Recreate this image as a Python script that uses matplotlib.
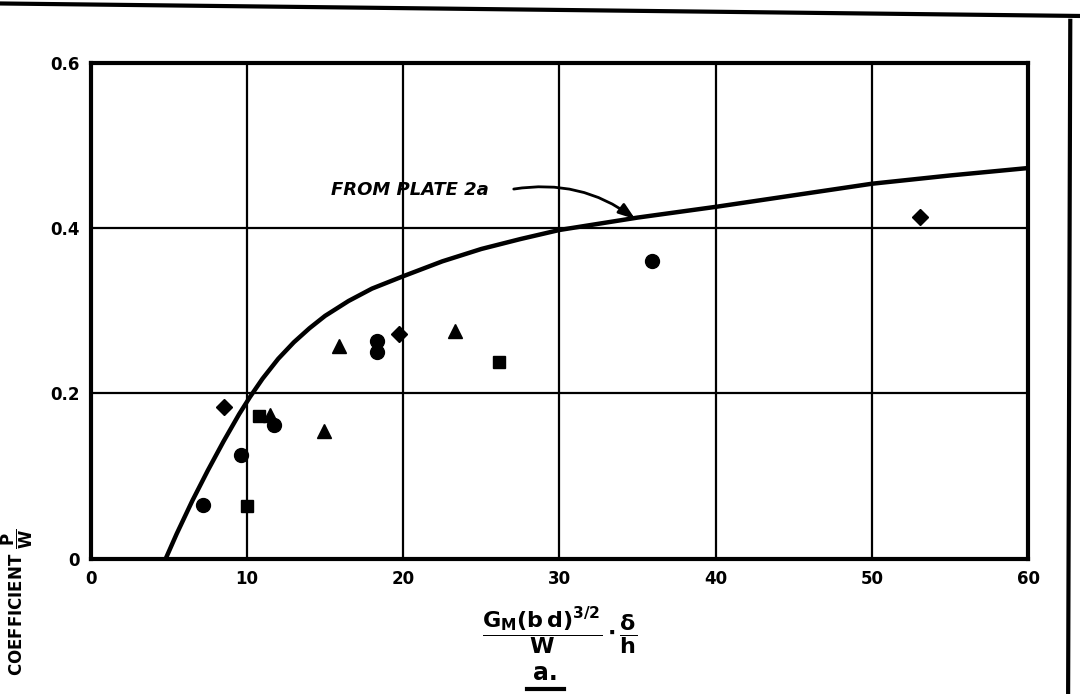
import matplotlib
matplotlib.use("Agg")
import matplotlib.pyplot as plt
from matplotlib.lines import Line2D

plt.rcParams['font.family'] = ['DejaVu Sans']
plt.rcParams['mathtext.fontset'] = 'dejavusans'
plt.rcParams['mathtext.default'] = 'bf'

# Curve "from plate 2a"
curve_x = [4.8, 5.5, 6.5, 7.5, 8.5, 9.5, 10.2, 11, 12, 13, 14, 15, 16.5, 18, 20,
           22.5, 25, 27.5, 30, 35, 40, 45, 50, 55, 60]
curve_y = [0.0, 0.03, 0.07, 0.107, 0.142, 0.175, 0.196, 0.218, 0.242, 0.262, 0.279,
           0.294, 0.312, 0.327, 0.342, 0.36, 0.375, 0.387, 0.398, 0.413, 0.426,
           0.44, 0.454, 0.464, 0.473]

# Test points by symbol
circle_x = [7.2, 9.6, 11.7, 18.3, 18.3, 35.9]
circle_y = [0.065, 0.125, 0.162, 0.263, 0.250, 0.360]
square_x = [10.0, 10.8, 26.1]
square_y = [0.064, 0.173, 0.238]
triangle_x = [11.5, 14.9, 15.9, 23.3]
triangle_y = [0.174, 0.155, 0.257, 0.276]
diamond_x = [8.5, 19.7, 53.1]
diamond_y = [0.184, 0.272, 0.414]

x_ticks = [0, 10, 20, 30, 40, 50, 60]
y_ticks = [0, 0.2, 0.4, 0.6]
y_tick_labels = ['0', '0.2', '0.4', '0.6']

fig = plt.figure(figsize=(10.8, 6.94), dpi=100)
ax = fig.add_axes([0.084, 0.195, 0.868, 0.714])
ax.set_xlim(0, 60)
ax.set_ylim(0, 0.6)

ax.set_xticks(x_ticks)
ax.set_xticklabels([str(t) for t in x_ticks], fontweight='bold', fontsize=12)
ax.set_yticks(y_ticks)
ax.set_yticklabels(y_tick_labels, fontweight='bold', fontsize=12)
ax.tick_params(length=0, pad=8)
ax.grid(True, color='black', linewidth=1.6)
ax.set_axisbelow(True)
for s in ax.spines.values():
    s.set_linewidth(3)
    s.set_color('black')

ax.plot(curve_x, curve_y, color='black', linewidth=3.2, solid_capstyle='round',
        solid_joinstyle='round', zorder=3)

ms = 10
ax.plot(circle_x, circle_y, 'o', color='black', ms=ms, zorder=4)
ax.plot(square_x, square_y, 's', color='black', ms=ms * 0.9, zorder=4)
ax.plot(triangle_x, triangle_y, '^', color='black', ms=ms, zorder=4)
ax.plot(diamond_x, diamond_y, 'D', color='black', ms=ms * 0.85, zorder=4)

ax.text(15.4, 0.447, 'FROM PLATE 2a', fontsize=13, fontweight='bold', style='italic',
        va='center', ha='left')
ax.annotate('', xy=(35.0, 0.409), xytext=(26.9, 0.447),
            arrowprops=dict(arrowstyle='-|>,head_length=1.0,head_width=0.35', color='black',
                            lw=2, connectionstyle='arc3,rad=-0.22'))

# Axis labels
fig.text(0.016, 0.133, r'COEFFICIENT $\dfrac{P}{W}$', rotation=90, fontsize=12,
         fontweight='bold', ha='center', va='center')
fig.text(0.518, 0.09, r'$\dfrac{G_M(b\,d)^{3/2}}{W}\cdot\dfrac{\delta}{h}$', fontsize=16,
         ha='center', va='center')
fig.text(0.505, 0.03, 'a.', fontsize=17, fontweight='bold', ha='center', va='center')
fig.add_artist(Line2D([0.488, 0.522], [0.007, 0.007], transform=fig.transFigure,
                      color='black', lw=3))

# Page frame lines from the scan
fig.add_artist(Line2D([0.0, 1.0], [0.995, 0.977], transform=fig.transFigure, color='black', lw=3))
fig.add_artist(Line2D([0.991, 0.989], [0.97, 0.0], transform=fig.transFigure, color='black', lw=3))

fig.savefig('out.png', dpi=100)
